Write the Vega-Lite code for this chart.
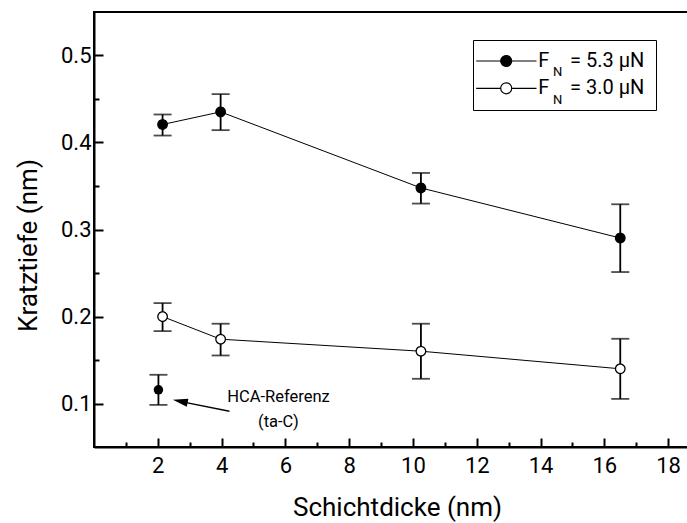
{
  "$schema": "https://vega.github.io/schema/vega-lite/v6.json",
  "width": 606,
  "height": 435,
  "autosize": {"type": "none"},
  "padding": {"left": 94, "top": 12, "right": 0, "bottom": 76},
  "background": "white",
  "config": {
    "font": "Roboto",
    "view": {"stroke": "black", "strokeWidth": 2},
    "axis": {
      "grid": false,
      "domainColor": "black",
      "domainWidth": 2,
      "tickColor": "black",
      "tickWidth": 2,
      "labelColor": "black",
      "titleColor": "black",
      "labelFont": "Roboto",
      "titleFont": "Roboto",
      "titleFontWeight": "normal",
      "labelFontSize": 22,
      "titleFontSize": 26
    }
  },
  "datasets": {
    "points": [
      {"series": "5.3 µN", "x": 2.15, "y": 0.4207, "lo": 0.408, "hi": 0.4322},
      {"series": "5.3 µN", "x": 3.97, "y": 0.4352, "lo": 0.4142, "hi": 0.4556},
      {"series": "5.3 µN", "x": 10.25, "y": 0.3478, "lo": 0.3298, "hi": 0.365},
      {"series": "5.3 µN", "x": 16.5, "y": 0.2902, "lo": 0.2511, "hi": 0.329},
      {"series": "3.0 µN", "x": 2.15, "y": 0.1999, "lo": 0.1832, "hi": 0.2154},
      {"series": "3.0 µN", "x": 3.97, "y": 0.1739, "lo": 0.1552, "hi": 0.1917},
      {"series": "3.0 µN", "x": 10.25, "y": 0.1601, "lo": 0.1284, "hi": 0.1917},
      {"series": "3.0 µN", "x": 16.5, "y": 0.1399, "lo": 0.1053, "hi": 0.1744},
      {"series": "ta-C", "x": 2.02, "y": 0.1157, "lo": 0.0984, "hi": 0.133}
    ]
  },
  "data": {"name": "points"},
  "resolve": {"axis": {"x": "independent", "y": "independent"}},
  "layer": [
    {
      "mark": {"type": "rule", "color": "black", "strokeWidth": 1.8},
      "encoding": {
        "x": {
          "field": "x", "type": "quantitative",
          "scale": {"domain": [0, 19], "nice": false, "zero": false},
          "axis": {
            "orient": "bottom",
            "values": [2, 4, 6, 8, 10, 12, 14, 16, 18],
            "format": "d",
            "tickSize": -9,
            "labelPadding": 17,
            "title": "Schichtdicke (nm)",
            "titlePadding": 18
          }
        },
        "y": {
          "field": "lo", "type": "quantitative",
          "scale": {"domain": [0.05, 0.55], "nice": false, "zero": false},
          "axis": {
            "orient": "left",
            "values": [0.1, 0.2, 0.3, 0.4, 0.5],
            "format": ".1f",
            "tickSize": -9,
            "labelPadding": 12,
            "title": "Kratztiefe (nm)",
            "titlePadding": 19,
            "titleY": 233
          }
        },
        "y2": {"field": "hi"}
      }
    },
    {
      "mark": {"type": "tick", "orient": "horizontal", "color": "black", "size": 18, "thickness": 1.8},
      "encoding": {
        "x": {
          "field": "x", "type": "quantitative",
          "axis": {
            "orient": "bottom",
            "values": [1, 3, 5, 7, 9, 11, 13, 15, 17, 19],
            "tickSize": -5,
            "labels": false,
            "domain": false,
            "title": null
          }
        },
        "y": {
          "field": "lo", "type": "quantitative",
          "axis": {
            "orient": "left",
            "values": [0.15, 0.25, 0.35, 0.45],
            "tickSize": -5,
            "labels": false,
            "domain": false,
            "title": null
          }
        }
      }
    },
    {
      "mark": {"type": "tick", "orient": "horizontal", "color": "black", "size": 18, "thickness": 1.8},
      "encoding": {
        "x": {"field": "x", "type": "quantitative", "axis": null},
        "y": {"field": "hi", "type": "quantitative", "axis": null}
      }
    },
    {
      "transform": [{"filter": "datum.series !== 'ta-C'"}],
      "mark": {"type": "line", "color": "black", "strokeWidth": 1},
      "encoding": {
        "x": {"field": "x", "type": "quantitative", "axis": null},
        "y": {"field": "y", "type": "quantitative", "axis": null},
        "detail": {"field": "series"}
      }
    },
    {
      "transform": [{"filter": "datum.series !== 'ta-C'"}],
      "mark": {"type": "point", "filled": true, "size": 90, "stroke": "black", "strokeWidth": 1.3, "opacity": 1},
      "encoding": {
        "x": {"field": "x", "type": "quantitative", "axis": null},
        "y": {"field": "y", "type": "quantitative", "axis": null},
        "fill": {
          "field": "series", "type": "nominal",
          "scale": {"domain": ["5.3 µN", "3.0 µN", "ta-C"], "range": ["black", "white", "black"]},
          "legend": {
            "orient": "none",
            "legendX": 379,
            "legendY": 28,
            "values": ["5.3 µN", "3.0 µN"],
            "title": null,
            "strokeColor": null,
            "padding": 11,
            "symbolType": "M-5.0,0H-0.917M0.917,0H5.05M-0.917,0A0.917,0.917,0,1,1,0.917,0A0.917,0.917,0,1,1,-0.917,0Z",
            "symbolSize": 144,
            "symbolStrokeColor": "black",
            "symbolStrokeWidth": 1.2,
            "symbolOffset": 12.2,
            "labelOffset": 22,
            "labelFontSize": 20,
            "labelFont": "Roboto",
            "labelColor": "black",
            "labelExpr": "'F'",
            "rowPadding": 7.3
          }
        },
        "shape": {
          "field": "series", "type": "nominal",
          "scale": {"domain": ["5.3 µN", "3.0 µN"], "range": ["circle", "circle"]},
          "legend": {
            "orient": "none",
            "legendX": 446,
            "legendY": 53,
            "title": null,
            "padding": 0,
            "symbolSize": 1,
            "symbolOpacity": 0,
            "symbolStrokeWidth": 0,
            "labelOffset": 0,
            "labelFontSize": 13,
            "labelFont": "Roboto",
            "labelColor": "black",
            "labelExpr": "'N'",
            "rowPadding": 14.3
          }
        },
        "strokeDash": {
          "field": "series", "type": "nominal",
          "scale": {"domain": ["3.0 µN", "5.3 µN"], "range": [[1, 0], [1, 0]]},
          "legend": {
            "orient": "none",
            "legendX": 379,
            "legendY": 28,
            "values": ["5.3 µN", "3.0 µN"],
            "title": null,
            "strokeColor": "black",
            "padding": 11,
            "symbolSize": 1,
            "symbolOpacity": 0,
            "symbolStrokeWidth": 0,
            "labelOffset": 66,
            "labelFontSize": 20,
            "labelFont": "Roboto",
            "labelColor": "black",
            "labelExpr": "'= ' + datum.label",
            "rowPadding": 7.3
          }
        }
      }
    },
    {
      "transform": [{"filter": "datum.series === 'ta-C'"}],
      "mark": {"type": "point", "shape": "circle", "filled": true, "size": 90, "color": "black", "opacity": 1},
      "encoding": {
        "x": {"field": "x", "type": "quantitative", "axis": null},
        "y": {"field": "y", "type": "quantitative", "axis": null}
      }
    },
    {
      "transform": [{"filter": "datum.series === 'ta-C'"}],
      "mark": {"type": "rule", "color": "black", "strokeWidth": 1.4, "xOffset": 24, "x2Offset": 71, "yOffset": 12, "y2Offset": 21.4},
      "encoding": {
        "x": {"field": "x", "type": "quantitative", "axis": null},
        "x2": {"field": "x"},
        "y": {"field": "y", "type": "quantitative", "axis": null},
        "y2": {"field": "y"}
      }
    },
    {
      "transform": [{"filter": "datum.series === 'ta-C'"}],
      "mark": {"type": "point", "shape": "M-1,0L1,-0.55L1,0.55Z", "size": 225, "filled": true, "color": "black", "opacity": 1, "angle": 11.4, "xOffset": 21.8, "yOffset": 11.5},
      "encoding": {
        "x": {"field": "x", "type": "quantitative", "axis": null},
        "y": {"field": "y", "type": "quantitative", "axis": null}
      }
    },
    {
      "transform": [{"filter": "datum.series === 'ta-C'"}],
      "mark": {"type": "text", "align": "center", "baseline": "middle", "dx": 120, "dy": 7.5, "fontSize": 16.5, "lineHeight": 24.5, "color": "black", "font": "Roboto"},
      "encoding": {
        "x": {"field": "x", "type": "quantitative", "axis": null},
        "y": {"field": "y", "type": "quantitative", "axis": null},
        "text": {"value": ["HCA-Referenz", "(ta-C)"]}
      }
    }
  ]
}
